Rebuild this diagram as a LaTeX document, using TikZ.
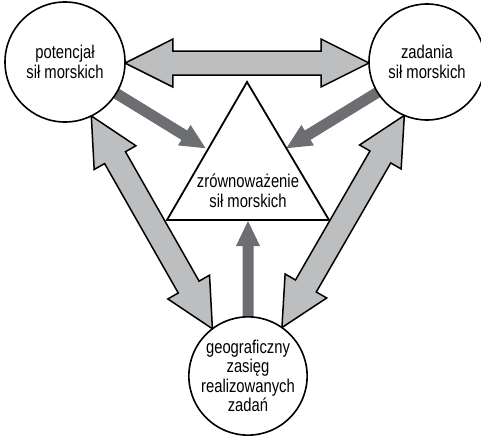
\documentclass[tikz,border=0pt]{standalone}
\usepackage{fontspec}
\setmainfont{Liberation Sans}[FakeStretch=0.8]
\usetikzlibrary{calc}
\definecolor{lightg}{HTML}{BCBEC0}
\definecolor{darkg}{HTML}{6D6E71}
\pgfdeclarelayer{bg}
\pgfsetlayers{bg,main}
\newcommand\slimarrow[2]{%
  \fill[darkg] let \p1=($(#2)-(#1)$), \n1={atan2(\y1,\x1)} in
  ($(#1)+({\n1+90}:5.5pt)$) -- ($(#2)+({\n1+180}:25pt)+({\n1+90}:5.5pt)$) --
  ($(#2)+({\n1+180}:25pt)+({\n1+90}:12pt)$) -- (#2) --
  ($(#2)+({\n1+180}:25pt)+({\n1-90}:12pt)$) -- ($(#2)+({\n1+180}:25pt)+({\n1-90}:5.5pt)$) --
  ($(#1)+({\n1-90}:5.5pt)$) -- cycle;}
\newcommand\fatdbl[2]{%
  \filldraw[fat] let \p1=($(#2)-(#1)$), \n1={atan2(\y1,\x1)} in
  (#1) -- ($(#1)+(\n1:48pt)+({\n1+90}:24pt)$) -- ($(#1)+(\n1:48pt)+({\n1+90}:12pt)$) --
  ($(#2)+({\n1+180}:48pt)+({\n1+90}:12pt)$) -- ($(#2)+({\n1+180}:48pt)+({\n1+90}:24pt)$) --
  (#2) -- ($(#2)+({\n1+180}:48pt)+({\n1-90}:24pt)$) -- ($(#2)+({\n1+180}:48pt)+({\n1-90}:12pt)$) --
  ($(#1)+(\n1:48pt)+({\n1-90}:12pt)$) -- ($(#1)+(\n1:48pt)+({\n1-90}:24pt)$) -- cycle;}
\begin{document}
\begin{tikzpicture}[x=1pt,y=-1pt,
  circ/.style={circle,draw,line width=1.6pt,fill=white,inner sep=0pt,outer sep=0pt,
    align=center,font=\fontsize{18.5}{19.5}\selectfont},
  fat/.style={draw=black,line width=1.5pt,fill=lightg,line join=miter},
  lbl/.style={align=center,font=\fontsize{18.5}{19.5}\selectfont}]
\useasboundingbox (0,0) rectangle (481,436);
\clip (0,0) rectangle (481,436);
% circles
\node[circ,minimum size=120pt] (L) at (65,62) {potencjał\\sił morskich};
\node[circ,minimum size=116pt] (R) at (427,62) {zadania\\sił morskich};
\node[circ,minimum size=118pt] (B) at (248,376) {geograficzny\\zasięg\\realizowanych\\zadań};
% triangle
\coordinate (tA) at (247,82);
\coordinate (tL) at (167,220);
\coordinate (tR) at (329,220);
\draw[line width=1.8pt,fill=white,line join=miter] (tA) -- (tL) -- (tR) -- cycle;
\node[lbl] (T) at (248,191) {zrównoważenie\\sił morskich};
% arrow end points
\coordinate (vt) at ($(tL)!0.5!(tR)+(0,1)$);
\coordinate (dlt) at ($(tA)!0.48!(tL)+(-3,0)$);
\coordinate (drt) at ($(tA)!0.48!(tR)$);
\begin{pgfonlayer}{bg}
  \fatdbl{L.-1}{R.181}
  \fatdbl{L.-64}{B.127}
  \fatdbl{R.-113}{B.55}
  \slimarrow{L.center}{dlt}
  \slimarrow{R.center}{drt}
  \slimarrow{B.center}{vt}
\end{pgfonlayer}
\end{tikzpicture}
\end{document}
